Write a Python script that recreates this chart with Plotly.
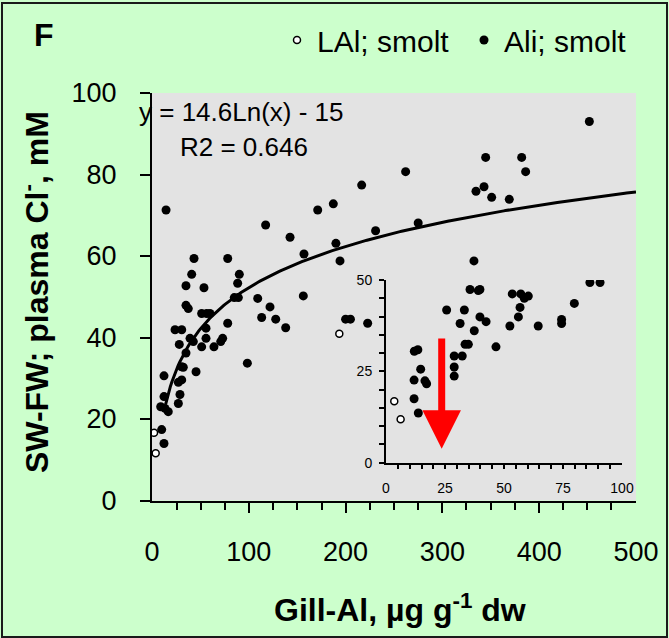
import numpy as np
import plotly.graph_objects as go

# ---- main panel data (Gill-Al, µg/g dw vs SW-FW plasma Cl-, mM) ----
ali_x = [14.5, 43.4, 41, 78.2, 90.2, 117.4, 142.6, 157, 171.2, 187.3, 216.6, 190, 194.2, 231,
         262, 275, 344.7, 381.9, 386, 334.7, 343, 350.9, 369.1, 451.8, 332.6,
         88.5, 35.1, 53.7, 35.1, 37.5, 85, 89.2, 109.2, 121.9, 113.3, 127.8, 138.1, 156.3,
         200, 205, 222.8, 51.3, 56.5, 59.9, 55.8, 78.2, 23.8, 30.7, 39.3, 42.7, 55.8, 28.2,
         51.3, 64, 71, 73, 35.1, 32.3, 30.5, 45.5, 98.5, 30.7, 27.2, 12.4, 28.9, 27.2, 12.4,
         9, 13.4, 16.8, 10, 12.4]
ali_y = [71.3, 59.4, 55.5, 59.4, 55.5, 67.6, 64.6, 60.5, 71.3, 72.8, 77.4, 63.1, 58.8, 66.2,
         80.7, 68.1, 84.2, 84.2, 80.7, 75.9, 77.0, 74.4, 73.9, 93.0, 58.8,
         53.3, 52.7, 52.2, 47.9, 47.1, 49.8, 49.8, 49.6, 47.5, 44.9, 44.5, 42.4, 50.2,
         44.5, 44.5, 43.5, 45.9, 45.9, 45.9, 42.3, 43.5, 41.9, 41.9, 39.8, 39.0, 39.8, 38.3,
         37.7, 37.7, 39.0, 39.8, 36.2, 32.7, 32.8, 31.6, 33.7, 29.6, 29.0, 30.6, 26.0, 23.8, 25.5,
         23.0, 22.6, 21.8, 17.4, 14.0]
lal_x = [2.1, 3.8, 193.5]
lal_y = [16.6, 11.6, 40.9]

# ---- inset data (0-100 µg/g) ----
in_ali_x = [12.0, 13.5, 14.7, 11.9, 16.5, 17.2, 11.9, 13.7, 25.7, 28.9, 28.9, 28.9, 32.3, 31.4,
            33.2, 33.5, 34.9, 35.6, 37.4, 39.1, 39.8, 39.8, 42.4, 46.6, 52.5, 53.5, 56.1, 56.8,
            57.1, 58.6, 60.3, 64.5, 74.4, 74.4, 79.8, 86.4, 90.7]
in_ali_y = [30.5, 30.9, 25.6, 22.6, 22.4, 21.6, 17.5, 13.6, 41.8, 29.2, 26.2, 23.7, 29.2, 38.1,
            41.8, 32.4, 32.4, 47.4, 36.1, 47.1, 47.4, 39.9, 38.6, 31.7, 37.4, 46.2, 39.9, 42.5,
            46.2, 45.0, 45.6, 37.4, 39.2, 38.1, 43.6, 49.3, 49.3]
in_lal_x = [3.5, 6.2]
in_lal_y = [16.8, 11.9]

# ---- trendline shown on chart: y = 14.6 Ln(x) - 15 ----
fit_a, fit_b = 14.6, -15.0
fit_xmin, fit_xmax = 14.0, 500.0

# arrow in inset (from, to)
arrow_x = 23.6
arrow_y_from, arrow_y_to = 34.4, 3.8

FONT = "Liberation Sans, Arial, sans-serif"
W, H = 669, 638
L, R, T = 152, 636, 93
AXB = 500.5          # pixel row of the main x axis
B = 514.0            # bottom of the paper region (tick strips live between AXB and B)
pw, ph = R - L, B - T


def px(xp):
    return (xp - L) / pw


def py(yp):
    return (B - yp) / ph


fig = go.Figure()

fx = np.linspace(fit_xmin, fit_xmax, 300)
fig.add_trace(go.Scatter(x=fx, y=fit_a * np.log(fx) + fit_b, mode="lines",
                         line=dict(color="black", width=3), showlegend=False,
                         hoverinfo="skip"))
fig.add_trace(go.Scatter(x=lal_x, y=lal_y, mode="markers", name="LAl; smolt",
                         marker=dict(symbol="circle", size=7, color="white",
                                     line=dict(color="black", width=1.5))))
fig.add_trace(go.Scatter(x=ali_x, y=ali_y, mode="markers", name="Ali; smolt",
                         marker=dict(symbol="circle", size=9, color="black")))

fig.add_trace(go.Scatter(x=in_lal_x, y=in_lal_y, mode="markers", xaxis="x2", yaxis="y2",
                         showlegend=False,
                         marker=dict(symbol="circle", size=7, color="white",
                                     line=dict(color="black", width=1.5))))
fig.add_trace(go.Scatter(x=in_ali_x, y=in_ali_y, mode="markers", xaxis="x2", yaxis="y2",
                         showlegend=False,
                         marker=dict(symbol="circle", size=9, color="black")))

# thin strips below the x axes whose grid lines act as tick marks
for xa, ya in [("x3", "y3"), ("x4", "y4"), ("x5", "y5")]:
    fig.add_trace(go.Scatter(x=[None], y=[None], mode="markers", xaxis=xa, yaxis=ya,
                             showlegend=False, hoverinfo="skip"))

strip_common = dict(showline=False, zeroline=False, showticklabels=False, ticks="",
                    fixedrange=True)

tickfont = dict(family=FONT, size=27, color="black")
fig.update_layout(
    width=W, height=H,
    margin=dict(l=L, r=W - R, t=T, b=H - B, autoexpand=False),
    paper_bgcolor="#CCFFCC",
    plot_bgcolor="rgba(0,0,0,0)",
    font=dict(family=FONT, color="black"),
    xaxis=dict(range=[0, 500], dtick=100, showgrid=False, zeroline=False,
               showline=True, linecolor="black", linewidth=2,
               ticks="", tickfont=tickfont, ticklabelstandoff=26),
    yaxis=dict(domain=[py(AXB), 1], range=[0, 100], dtick=20, showgrid=False, zeroline=False,
               showline=True, linecolor="black", linewidth=2,
               ticks="outside", ticklen=10, tickwidth=1.5, tickcolor="black",
               tickfont=tickfont, ticklabelstandoff=18),
    # minor + major tick strip (main x)
    xaxis3=dict(domain=[0, 1], anchor="y3", range=[-0.6, 500.6], dtick=25, showgrid=True,
                gridcolor="black", gridwidth=2, **strip_common),
    yaxis3=dict(domain=[py(510), py(501)], anchor="x3", range=[0, 1], showgrid=False,
                **strip_common),
    # extension of the major ticks (main x)
    xaxis4=dict(domain=[0, 1], anchor="y4", range=[-0.6, 500.6], dtick=100, showgrid=True,
                gridcolor="black", gridwidth=2, **strip_common),
    yaxis4=dict(domain=[py(513), py(509)], anchor="x4", range=[0, 1], showgrid=False,
                **strip_common),
    # inset x ticks
    xaxis5=dict(domain=[px(386), px(622)], anchor="y5", range=[-0.2, 100.2], dtick=5,
                showgrid=True, gridcolor="black", gridwidth=2, **strip_common),
    yaxis5=dict(domain=[py(468.5), py(463)], anchor="x5", range=[0, 1], showgrid=False,
                **strip_common),
    xaxis2=dict(domain=[px(386), px(622)], anchor="y2", range=[0, 100], dtick=25,
                showgrid=False, zeroline=False, showline=True, linecolor="black", linewidth=2,
                ticks="",
                tickfont=dict(family=FONT, size=14, color="black"), ticklabelstandoff=11),
    yaxis2=dict(domain=[py(462.7), py(280)], anchor="x2", range=[0, 50], dtick=25,
                showgrid=False, zeroline=False, showline=True, linecolor="black", linewidth=2,
                ticks="outside", ticklen=5, tickwidth=2, tickcolor="black",
                minor=dict(dtick=5, ticks="outside", ticklen=5, tickwidth=2, tickcolor="black"),
                tickfont=dict(family=FONT, size=14, color="black"), ticklabelstandoff=4),
    legend=dict(orientation="h", x=px(277), xanchor="left", y=py(40), yanchor="middle",
                font=dict(family=FONT, size=30, color="black"), bgcolor="rgba(0,0,0,0)",
                entrywidth=142, itemwidth=30, tracegroupgap=0),
    showlegend=True,
)

# grey plotting area
fig.add_shape(type="rect", xref="paper", yref="paper", x0=0, x1=1, y0=py(AXB), y1=1,
              line=dict(width=0), fillcolor="#E3E3E3", layer="below")

annos = [
    dict(text="<b>F</b>", x=px(32), y=py(35), xanchor="left", yanchor="middle",
         font=dict(size=32, family=FONT)),
    dict(text="y = 14.6Ln(x) - 15", x=px(137), y=py(112), xanchor="left", yanchor="middle",
         font=dict(size=26, family=FONT)),
    dict(text="R2 = 0.646", x=px(178), y=py(147), xanchor="left", yanchor="middle",
         font=dict(size=26, family=FONT)),
    dict(text="<b>SW-FW; plasma Cl<sup>-</sup>, mM</b>", x=px(35), y=py(292), textangle=-90,
         xanchor="center", yanchor="middle", font=dict(size=32, family=FONT)),
    dict(text="<b>Gill-Al, µg g<sup>-1</sup> dw</b>", x=px(400), y=py(608),
         xanchor="center", yanchor="middle", font=dict(size=32, family=FONT)),
]
for a in annos:
    a.update(xref="paper", yref="paper", showarrow=False)
    fig.add_annotation(**a)

fig.add_annotation(x=arrow_x, y=arrow_y_to, ax=arrow_x, ay=arrow_y_from,
                   xref="x2", yref="y2", axref="x2", ayref="y2", text="",
                   showarrow=True, arrowhead=2, arrowsize=1.1, arrowwidth=7,
                   arrowcolor="#FF0000", standoff=0)

fig.add_shape(type="rect", xref="paper", yref="paper",
              x0=px(2), x1=px(667), y0=py(637), y1=py(3),
              line=dict(color="#1a1a1a", width=2), fillcolor="rgba(0,0,0,0)", layer="above")

fig.write_html("out.html")
